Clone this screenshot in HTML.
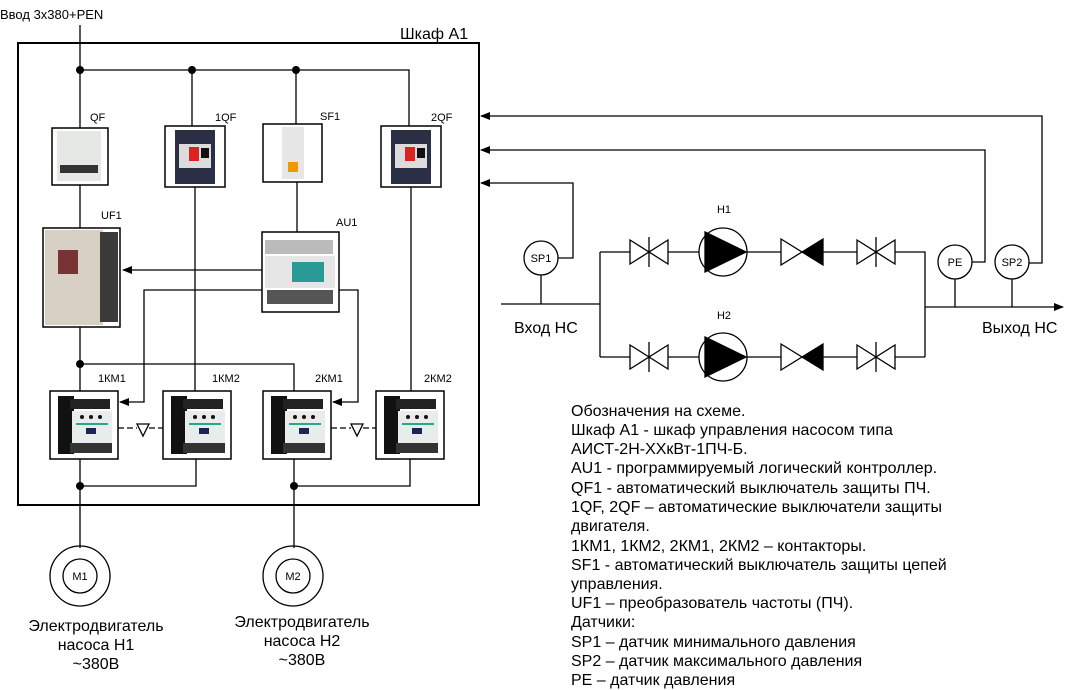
<!DOCTYPE html>
<html><head><meta charset="utf-8"><style>
body{margin:0;background:#fff}
svg{display:block;font-family:"Liberation Sans",sans-serif}
</style></head><body>
<svg width="1069" height="690" viewBox="0 0 1069 690" xmlns="http://www.w3.org/2000/svg">
<defs>
<marker id="ar" markerWidth="10" markerHeight="8" refX="9" refY="4" orient="auto" markerUnits="userSpaceOnUse"><path d="M0,0 L10,4 L0,8z" fill="#000"/></marker>
<g id="cont">
<rect x="0" y="0" width="68" height="68" fill="#fff" stroke="#000" stroke-width="1.5"/>
<rect x="8" y="5" width="16" height="58" fill="#111"/>
<rect x="20" y="8" width="40" height="10" fill="#222"/>
<rect x="22" y="20" width="40" height="32" fill="#e8ecea"/>
<circle cx="32" cy="26" r="2" fill="#111"/><circle cx="41" cy="26" r="2" fill="#111"/><circle cx="50" cy="26" r="2" fill="#111"/>
<rect x="26" y="32" width="32" height="2" fill="#2a8"/>
<rect x="36" y="37" width="10" height="6" fill="#225"/>
<rect x="20" y="52" width="42" height="10" fill="#333"/>
</g>
<g id="mb">
<rect x="0" y="0" width="60" height="61" fill="#fff" stroke="#000" stroke-width="1.5"/>
<rect x="10" y="4" width="40" height="54" fill="#2a2f45"/>
<rect x="14" y="18" width="32" height="24" fill="#dcdcdc"/>
<rect x="24" y="21" width="10" height="14" fill="#d22"/>
<rect x="36" y="22" width="8" height="10" fill="#111"/>
</g>
</defs>

<text x="0" y="19" font-size="13">Ввод 3х380+PEN</text>
<text x="400" y="39" font-size="16">Шкаф А1</text>
<rect x="18" y="43" width="461" height="462" fill="none" stroke="#000" stroke-width="2"/>

<g stroke="#000" stroke-width="1.3" fill="none">
<path d="M80 25 V128 M80 70 H409 V126 M192 70 V126 M296 70 V124"/>
<path d="M80 185 V228 M80 327 V391 M80 364 H294 V391"/>
<path d="M195 187 V391 M297 182 V232 M411 187 V391"/>
<path d="M262 270 H123" marker-end="url(#ar)"/>
<path d="M262 290 H144 V402 H120" marker-end="url(#ar)"/>
<path d="M339 290 H358 V402 H333" marker-end="url(#ar)"/>
<path d="M80 459 V548 M80 486 H196 V459 M294 459 V548 M294 486 H410 V459"/>
<path d="M118 428 H137 M149 428 H163 M331 428 H351 M363 428 H376" stroke-dasharray="6,3"/>
<path d="M137 424 L149 424 L143 436 Z M351 424 L363 424 L357 436 Z"/>
</g>
<g fill="#000"><circle cx="80" cy="70" r="4"/><circle cx="192" cy="70" r="4"/><circle cx="296" cy="70" r="4"/><circle cx="80" cy="364" r="4"/><circle cx="80" cy="486" r="4"/><circle cx="294" cy="486" r="4"/></g>

<g font-size="11">
<text x="90" y="121">QF</text><text x="215" y="121">1QF</text><text x="320" y="120">SF1</text><text x="431" y="121">2QF</text>
<text x="101" y="219">UF1</text><text x="336" y="226">AU1</text>
<text x="98" y="382">1КМ1</text><text x="212" y="382">1КМ2</text><text x="315" y="382">2КМ1</text><text x="424" y="382">2КМ2</text>
</g>

<rect x="52" y="128" width="56" height="57" fill="#fff" stroke="#000" stroke-width="1.5"/>
<rect x="57" y="131" width="44" height="50" fill="#e6e8e6"/>
<rect x="60" y="165" width="38" height="8" fill="#333"/>
<use href="#mb" x="165" y="126"/>
<rect x="263" y="124" width="59" height="58" fill="#fff" stroke="#000" stroke-width="1.5"/>
<rect x="282" y="127" width="22" height="52" fill="#e6e6e6"/><rect x="288" y="162" width="10" height="10" fill="#e90"/>
<use href="#mb" x="381" y="126"/>
<rect x="43" y="228" width="77" height="99" fill="#fff" stroke="#000" stroke-width="1.5"/>
<rect x="45" y="230" width="58" height="95" fill="#d8d0c4"/>
<rect x="100" y="232" width="18" height="90" fill="#3a3a3a"/>
<rect x="58" y="250" width="20" height="24" fill="#733"/>
<rect x="262" y="232" width="77" height="80" fill="#fff" stroke="#000" stroke-width="1.5"/>
<rect x="265" y="240" width="68" height="14" fill="#bbb"/>
<rect x="265" y="256" width="70" height="32" fill="#e6e6e6"/>
<rect x="292" y="262" width="32" height="20" fill="#2a9a96"/>
<rect x="267" y="290" width="66" height="14" fill="#555"/>
<use href="#cont" x="50" y="391"/><use href="#cont" x="163" y="391"/><use href="#cont" x="263" y="391"/><use href="#cont" x="376" y="391"/>

<g fill="none" stroke="#000" stroke-width="1.3">
<circle cx="80" cy="576" r="30"/><circle cx="80" cy="576" r="17"/>
<circle cx="293" cy="576" r="30"/><circle cx="293" cy="576" r="17"/>
</g>
<g font-size="11" text-anchor="middle"><text x="80" y="580">M1</text><text x="293" y="580">M2</text></g>
<g font-size="16" text-anchor="middle">
<text x="96" y="631">Электродвигатель</text><text x="96" y="650">насоса Н1</text><text x="96" y="669">~380В</text>
<text x="302" y="627">Электродвигатель</text><text x="302" y="646">насоса Н2</text><text x="302" y="665">~380В</text>
</g>

<g stroke="#000" stroke-width="1.3" fill="none">
<path d="M1029 263 H1042 V116 H481" marker-end="url(#ar)"/>
<path d="M972 262 H985 V150 H481" marker-end="url(#ar)"/>
<path d="M558 258 H573 V183 H481" marker-end="url(#ar)"/>
<path d="M501 304 H600 M600 252 V357 M600 252 H630 M668 252 H699 M747 252 H781 M823 252 H857 M895 252 H925 V357 M600 357 H630 M668 357 H699 M747 357 H781 M823 357 H857 M895 357 H925"/>
<path d="M925 307 H1063" marker-end="url(#ar)"/>
<path d="M541 275 V304 M955 279 V307 M1012 279 V307"/>
<circle cx="541" cy="258" r="17"/><circle cx="955" cy="262" r="17"/><circle cx="1012" cy="262" r="17"/>
</g>
<g font-size="11" text-anchor="middle"><text x="541" y="262">SP1</text><text x="955" y="266">PE</text><text x="1012" y="266">SP2</text>
<text x="724" y="213">Н1</text><text x="724" y="319">Н2</text></g>
<g id="row1" stroke="#000" stroke-width="1.3">
<path d="M630 240 L668 264 V240 L630 264 Z M649 237 V267" fill="#fff"/>
<circle cx="723" cy="252" r="24" fill="#fff"/>
<path d="M705 232 L746 252 L705 272 Z" fill="#000"/>
<path d="M781 239 L802 252 L781 265 Z" fill="#fff"/><path d="M823 239 L802 252 L823 265 Z" fill="#000"/>
<path d="M857 240 L895 264 V240 L857 264 Z M876 237 V267" fill="#fff"/>
</g>
<use href="#row1" y="105"/>
<g font-size="16"><text x="514" y="333">Вход НС</text><text x="982" y="333">Выход НС</text></g>

<g font-size="16">
<text x="571" y="416">Обозначения на схеме.</text>
<text x="571" y="435">Шкаф А1 - шкаф управления насосом типа</text>
<text x="571" y="454">АИСТ-2Н-ХХкВт-1ПЧ-Б.</text>
<text x="571" y="473">AU1 - программируемый логический контроллер.</text>
<text x="571" y="493">QF1 - автоматический выключатель защиты ПЧ.</text>
<text x="571" y="512">1QF, 2QF – автоматические выключатели защиты</text>
<text x="571" y="531">двигателя.</text>
<text x="571" y="551">1КМ1, 1КМ2, 2КМ1, 2КМ2 – контакторы.</text>
<text x="571" y="570">SF1 - автоматический  выключатель защиты цепей</text>
<text x="571" y="589">управления.</text>
<text x="571" y="608">UF1 – преобразователь частоты (ПЧ).</text>
<text x="571" y="627">Датчики:</text>
<text x="571" y="647">SP1 – датчик минимального давления</text>
<text x="571" y="666">SP2 – датчик максимального давления</text>
<text x="571" y="685">PE – датчик давления</text>
</g>
</svg>
</body></html>
